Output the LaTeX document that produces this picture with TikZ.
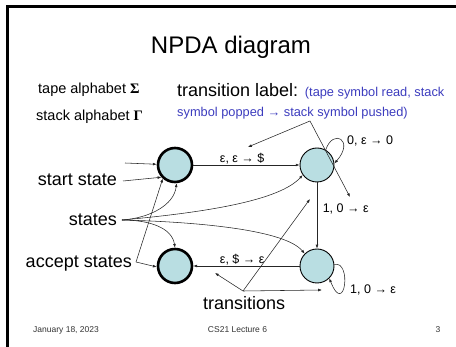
\documentclass[tikz,border=0pt]{standalone}
\usepackage{fontspec}
\setmainfont{Liberation Sans}
\newfontfamily\greekserif{Liberation Serif}
\usetikzlibrary{arrows.meta}
\definecolor{statefill}{RGB}{185,222,226}
\definecolor{notecolor}{RGB}{60,60,190}
\newcommand\szTitle{\fontsize{24}{28}\selectfont}
\newcommand\szBig{\fontsize{18}{21}\selectfont}
\newcommand\szAlpha{\fontsize{14.5}{17}\selectfont}
\newcommand\szNote{\fontsize{12.8}{15}\selectfont}
\newcommand\szLab{\fontsize{12.5}{15}\selectfont}
\newcommand\szFoot{\fontsize{8.5}{10}\selectfont}
\begin{document}
\begin{tikzpicture}[x=1pt,y=-1pt,
  state/.style={circle,draw=black,fill=statefill,minimum size=34pt,inner sep=0pt,line width=0.9pt},
  accepting/.style={line width=2.6pt},
  conn/.style={draw=black!85,line width=0.55pt,-{Latex[length=3.8pt,width=2.8pt]}},
  txt/.style={inner sep=0pt,anchor=base west},
  lab/.style={inner sep=0.5pt,font=\szLab},
  foot/.style={inner sep=0pt,anchor=base,font=\szFoot,text=black!80}]
\useasboundingbox (0,0) rectangle (456,347);
% slide frame
\draw[line width=2.6pt] (7.5,347) -- (7.5,6.5) -- (456,6.5);

% headings
\node[txt,font=\szTitle,anchor=base] (title) at (231,54) {NPDA diagram};
\node[txt,font=\szAlpha] (tape) at (38,94) {tape alphabet {\greekserif\bfseries Σ}};
\node[txt,font=\szAlpha] (stack) at (36,121) {stack alphabet {\greekserif\bfseries Γ}};
\node[txt] (tl1) at (177,97) {{\szBig transition label: }{\szNote\color{notecolor}(tape symbol read, stack}};
\node[txt,font=\szNote,text=notecolor] (tl2) at (177,117) {symbol popped → stack symbol pushed)};

% states
\node[state,accepting] (q1) at (175,165) {};
\node[state] (q2) at (317,165) {};
\node[state] (q3) at (317,266) {};
\node[state,accepting] (q4) at (175,266) {};

% transitions
\coordinate (init) at (125,163);
\draw[conn] (init) -- (q1);
\draw[conn] (q1) -- node[lab,above,pos=0.46] (e12) {ε, ε → \$} (q2);
\draw[conn] (q2.60) .. controls (333,128) and (355,140) .. (q2.5);
\node[txt,font=\szLab] (l22) at (347,145) {0, ε → 0};
\draw[conn] (q2) -- node[lab,right=5pt,pos=0.4] (e23) {1, 0 → ε} (q3);
\draw[conn] (q3.5) .. controls (352,260) and (345,318) .. (q3.-45);
\node[txt,font=\szLab] (l33) at (350,294) {1, 0 → ε};
\draw[conn] (q3) -- node[lab,above,pos=0.54] (e34) {ε, \$ → ε} (q4);

% annotations
\node[txt,font=\szBig,anchor=base east] (start) at (117,186) {start state};
\node[txt,font=\szBig,anchor=base east] (states) at (117,226) {states};
\node[txt,font=\szBig,anchor=base east] (accept) at (132,268) {accept states};
\node[txt,font=\szBig] (trans) at (203,310) {transitions};

\coordinate (startR) at (123,181);
\coordinate (statesR) at (122,220);
\coordinate (acceptR) at (136,262);
\coordinate (tlp) at (310,121);
\coordinate (tlA) at (248,147);
\coordinate (tlB) at (350,197);
\coordinate (trp) at (243,291);
\coordinate (trA) at (215,273);
\coordinate (trB) at (310,199);
\coordinate (trC) at (322,290);

\draw[conn] (startR) -- (q1.222);
\draw[conn] (statesR) .. controls (150,218) and (174,205) .. (q1.-85);
\draw[conn] (statesR) .. controls (210,212) and (280,200) .. (q2.215);
\draw[conn] (statesR) .. controls (200,222) and (285,230) .. (q3.135);
\draw[conn] (statesR) .. controls (150,220) and (172,228) .. (q4.90);
\draw[conn] (acceptR) -- (q1.228);
\draw[conn] (acceptR) -- (q4.183);
\draw[conn] (tlp) -- (tlA);
\draw[conn] (tlp) -- (tlB);
\draw[conn] (trp) -- (trA);
\draw[conn] (trp) -- (trB);
\draw[conn] (trp) -- (trC);

% footer
\node[foot,anchor=base west] (date) at (33,333) {January 18, 2023};
\node[foot] (lecture) at (237.5,333) {CS21 Lecture 6};
\node[foot] (page) at (438,333) {3};
\end{tikzpicture}
\end{document}
